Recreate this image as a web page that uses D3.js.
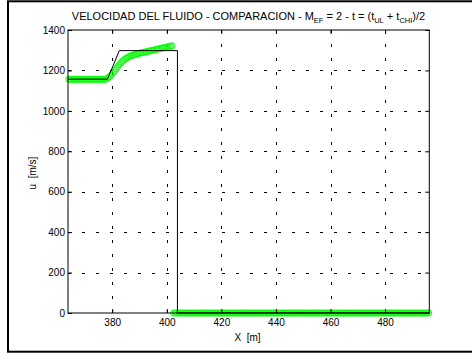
<!DOCTYPE html>
<html>
<head>
<meta charset="utf-8">
<script src="https://cdn.jsdelivr.net/npm/d3@7"></script>
<style>
  html, body { margin: 0; padding: 0; background: #fff; }
  svg { display: block; font-family: "Liberation Sans", Arial, sans-serif; }
</style>
</head>
<body>
<svg id="chart" width="472" height="353"></svg>
<script>
// Simulated fluid velocity on a uniform mesh (m/s)
const meshStart = 364;   // first node, m
const meshStep = 0.5;    // node spacing, m
const uPlateau = [
  1156, 1156, 1156, 1156, 1156, 1156, 1156, 1156, 1156, 1156,
  1156, 1156, 1156, 1156, 1156, 1156, 1156, 1156, 1156, 1156,
  1156, 1156, 1156, 1156, 1156, 1156, 1156, 1156,
  1159, 1163, 1168, 1175, 1183, 1191, 1200, 1209, 1218, 1227,
  1235, 1242, 1249, 1254, 1259, 1263, 1267, 1270, 1273, 1275,
  1277, 1279, 1281, 1283, 1285, 1287, 1288, 1290, 1291, 1293,
  1294, 1296, 1297, 1299, 1300, 1302, 1303, 1305, 1307, 1308,
  1310, 1311, 1313, 1314, 1316, 1317, 1319, 1320, 1322
];
const uAhead = [
  0,0,0,0,0,0,0,0,0,0,0,0,0,0,0,0,0,0,0,0,
  0,0,0,0,0,0,0,0,0,0,0,0,0,0,0,0,0,0,0,0,
  0,0,0,0,0,0,0,0,0,0,0,0,0,0,0,0,0,0,0,0,
  0,0,0,0,0,0,0,0,0,0,0,0,0,0,0,0,0,0,0,0,
  0,0,0,0,0,0,0,0,0,0,0,0,0,0,0,0,0,0,0,0,
  0,0,0,0,0,0,0,0,0,0,0,0,0,0,0,0,0,0,0,0,
  0,0,0,0,0,0,0,0,0,0,0,0,0,0,0,0,0,0,0,0,
  0,0,0,0,0,0,0,0,0,0,0,0,0,0,0,0,0,0,0,0,
  0,0,0,0,0,0,0,0,0,0,0,0,0,0,0,0,0,0,0,0,
  0,0,0,0,0,0,0,0
];
const uNumeric = uPlateau.concat(uAhead);

// Reference (exact) solution, piecewise linear
const refX = [363.8, 378.3, 382.6, 403.9, 403.9, 496.2];
const refU = [1157, 1157, 1298, 1298, 0, 0];

const xDomain = [363.8, 496.2];
const yDomain = [0, 1400];
const xTicks = [380, 400, 420, 440, 460, 480];
const yTicks = [0, 200, 400, 600, 800, 1000, 1200, 1400];

const svg = d3.select("#chart");
const plot = { left: 68, right: 429.3, top: 30, bottom: 313 };

// outer figure frame
svg.append("rect")
  .attr("x", 8).attr("y", 1.3)
  .attr("width", 520).attr("height", 350.4)
  .attr("fill", "#fff").attr("stroke", "#000").attr("stroke-width", 2);

const x = d3.scaleLinear().domain(xDomain).range([plot.left, plot.right]);
const y = d3.scaleLinear().domain(yDomain).range([plot.bottom, plot.top]);

// dotted grid
const grid = svg.append("g").attr("stroke", "#000").attr("stroke-width", 1)
  .attr("stroke-dasharray", "3,11");
grid.selectAll("line.gx").data(xTicks).join("line")
  .attr("x1", d => Math.round(x(d)) + 0.5).attr("x2", d => Math.round(x(d)) + 0.5)
  .attr("y1", plot.top).attr("y2", plot.bottom);
grid.selectAll("line.gy").data(yTicks.filter(d => d > 0 && d < 1400)).join("line")
  .attr("y1", d => Math.round(y(d)) + 0.5).attr("y2", d => Math.round(y(d)) + 0.5)
  .attr("x1", plot.left).attr("x2", plot.right);

// numeric solution markers
const pts = uNumeric.map((u, i) => ({ xv: meshStart + i * meshStep, u }));
svg.append("g").selectAll("circle").data(pts).join("circle")
  .attr("cx", d => x(d.xv)).attr("cy", d => y(d.u)).attr("r", 3)
  .attr("fill", "none").attr("stroke", "#00ff00").attr("stroke-width", 0.9);

// reference solution line
svg.append("path")
  .datum(refX.map((xv, i) => [xv, refU[i]]))
  .attr("fill", "none").attr("stroke", "#000").attr("stroke-width", 1)
  .attr("d", d3.line().x(d => x(d[0])).y(d => y(d[1])));

// axes with inward ticks
const tickFont = g => g.attr("font-family", "Liberation Sans, Arial, sans-serif").attr("font-size", 10);
svg.append("g").attr("transform", `translate(0,${plot.bottom})`)
  .call(d3.axisBottom(x).tickValues(xTicks).tickSize(-4).tickPadding(6).tickFormat(d3.format("d")))
  .call(tickFont);
svg.append("g").attr("transform", `translate(0,${plot.top})`)
  .call(d3.axisTop(x).tickValues(xTicks).tickSize(-4).tickFormat(""));
svg.append("g").attr("transform", `translate(${plot.left},0)`)
  .call(d3.axisLeft(y).tickValues(yTicks).tickSize(-4).tickPadding(3).tickFormat(d3.format("d")))
  .call(tickFont);
svg.append("g").attr("transform", `translate(${plot.right},0)`)
  .call(d3.axisRight(y).tickValues(yTicks).tickSize(-4).tickFormat(""));
svg.selectAll(".domain").remove();
svg.selectAll(".tick line").attr("stroke", "#000");
svg.selectAll(".tick text").attr("fill", "#000");

// axes box
svg.append("rect")
  .attr("x", plot.left).attr("y", plot.top)
  .attr("width", plot.right - plot.left).attr("height", plot.bottom - plot.top)
  .attr("fill", "none").attr("stroke", "#000").attr("stroke-width", 1);

// title with subscripts
const title = svg.append("text")
  .attr("x", 248.5).attr("y", 19.5).attr("text-anchor", "middle")
  .attr("font-size", 11).attr("fill", "#000");
const parts = [
  ["VELOCIDAD DEL FLUIDO - COMPARACION - M", false],
  ["EF", true],
  [" = 2 - t = (t", false],
  ["UL", true],
  [" + t", false],
  ["CHI", true],
  [")/2", false]
];
let lowered = false;
parts.forEach(([txt, sub]) => {
  const ts = title.append("tspan").text(txt);
  if (sub) { ts.attr("font-size", 7.5).attr("dy", lowered ? 0 : 3); lowered = true; }
  else { ts.attr("dy", lowered ? -3 : 0); lowered = false; }
});

// axis labels
svg.append("text").attr("x", 247.5).attr("y", 341).attr("text-anchor", "middle")
  .attr("font-size", 10).attr("fill", "#000").attr("xml:space", "preserve").text("X  [m]");
svg.append("text").attr("transform", "translate(36,173) rotate(-90)")
  .attr("text-anchor", "middle").attr("font-size", 10).attr("fill", "#000")
  .attr("xml:space", "preserve").text("u  [m/s]");
</script>
</body>
</html>
